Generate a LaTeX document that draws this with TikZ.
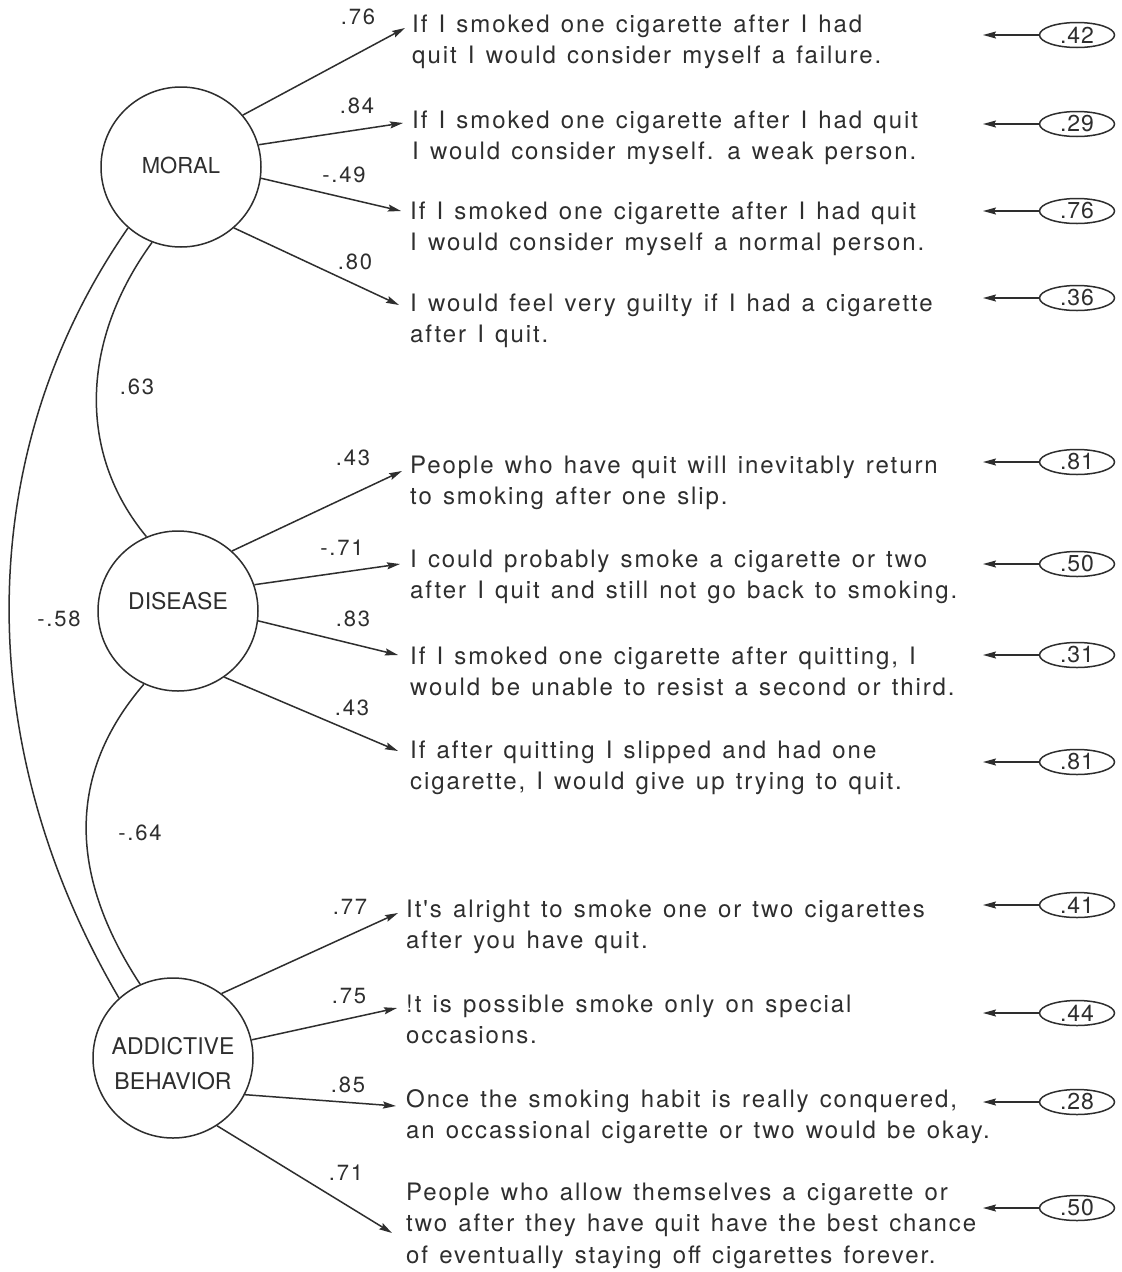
\documentclass[tikz,border=0pt]{standalone}
\usepackage{fontspec}
\setmainfont{TeX Gyre Heros}
\newfontfamily\itemfont[LetterSpace=8,WordSpace=1.3]{TeX Gyre Heros}
\newfontfamily\errfont[LetterSpace=4]{TeX Gyre Heros}
\usetikzlibrary{arrows.meta,shapes.geometric}
\definecolor{ink}{HTML}{2E2E2E}
\begin{document}
\begin{tikzpicture}[x=1pt,y=-1pt,
  latent/.style={circle,draw=ink,line width=1.5pt,minimum size=160pt,inner sep=0pt,
    font=\fontsize{23}{31}\selectfont,text=ink,align=center},
  item/.style={anchor=north west,inner sep=0pt,align=left,
    font=\itemfont\fontsize{24}{31.5}\selectfont,text=ink},
  coef/.style={inner sep=0pt,font=\itemfont\fontsize{22}{26}\selectfont,text=ink},
  err/.style={ellipse,draw=ink,line width=1.5pt,minimum width=75pt,minimum height=25pt,
    inner sep=0pt,font=\errfont\fontsize{23}{26}\selectfont,text=ink},
  load/.style={draw=ink,line width=1.5pt,-{Stealth[length=13pt,width=7pt,inset=2pt]}},
  cov/.style={draw=ink,line width=1.5pt}]
\useasboundingbox[fill=white] (0,0) rectangle (1122,1272);

% latent variables
\node[latent] (M) at (181,167) {\fontsize{22}{31}\selectfont\raisebox{2pt}[\height][\depth]{MORAL}};
\node[latent] (D) at (178,611) {\raisebox{10pt}[\height][\depth]{DISEASE}};
\node[latent] (A) at (173,1058) {\raisebox{-5.5pt}[\height][\depth]{\shortstack{ADDICTIVE\\[14pt]BEHAVIOR}}};

% covariances
\draw[cov] (M.249) .. controls (81,340) and (76.6,452.3) .. (D.113);
\draw[cov] (M.229) .. controls (-29,454) and (-29,746) .. (A.132);
\draw[cov] (D.245) .. controls (67.5,773) and (67.5,873.5) .. (A.114);
\node[coef] (c63) at (137,387) {.63};
\node[coef] (c58) at (59,619) {-.58};
\node[coef] (c64) at (140,833) {-.64};

% items
\node[item] (m1) at (412,10) {\strut If I smoked one cigarette after I had\\quit I would consider myself a failure.};
\node[item] (m2) at (412,106) {\strut If I smoked one cigarette after I had quit\\I would consider myself. a weak person.};
\node[item] (m3) at (410,197) {\strut If I smoked one cigarette after I had quit\\I would consider myself a normal person.};
\node[item] (m4) at (410,289) {\strut I would feel very guilty if I had a cigarette\\after I quit.};
\node[item] (d1) at (410,451) {\strut People who have quit will inevitably return\\to smoking after one slip.};
\node[item] (d2) at (410,545) {\strut I could probably smoke a cigarette or two\\after I quit and still not go back to smoking.};
\node[item] (d3) at (410,642) {\strut If I smoked one cigarette after quitting, I\\would be unable to resist a second or third.};
\node[item] (d4) at (410,736) {\strut If after quitting I slipped and had one\\cigarette, I would give up trying to quit.};
\node[item] (a1) at (406,895) {\strut It's alright to smoke one or two cigarettes\\after you have quit.};
\node[item] (a2) at (406,990) {\strut !t is possible smoke only on special\\occasions.};
\node[item] (a3) at (406,1085) {\strut Once the smoking habit is really conquered,\\an occassional cigarette or two would be okay.};
\node[item] (a4) at (406,1178) {\strut People who allow themselves a cigarette or\\two after they have quit have the best chance\\of eventually staying off cigarettes forever.};

% arrow tips at items
\coordinate (tm1) at (405,28);
\coordinate (tm2) at (403,123);
\coordinate (tm3) at (401,211);
\coordinate (tm4) at (399,305);
\coordinate (td1) at (402,471);
\coordinate (td2) at (400,564);
\coordinate (td3) at (398,655);
\coordinate (td4) at (398,751);
\coordinate (ta1) at (398,913);
\coordinate (ta2) at (397,1008);
\coordinate (ta3) at (396,1106);
\coordinate (ta4) at (392,1233);

% loadings
\draw[load] (M.40) -- (tm1);
\draw[load] (M.16) -- (tm2);
\draw[load] (M.352) -- (tm3);
\draw[load] (M.311) -- (tm4);
\draw[load] (D.48) -- (td1);
\draw[load] (D.19) -- (td2);
\draw[load] (D.353) -- (td3);
\draw[load] (D.305) -- (td4);
\draw[load] (A.53) -- (ta1);
\draw[load] (A.13) -- (ta2);
\draw[load] (A.333) -- (ta3);
\draw[load] (A.303) -- (ta4);

\node[coef] (l1) at (358,17) {.76};
\node[coef] (l2) at (357,106) {.84};
\node[coef] (l3) at (344,175) {-.49};
\node[coef] (l4) at (355,262) {.80};
\node[coef] (l5) at (353,458) {.43};
\node[coef] (l6) at (342,548) {-.71};
\node[coef] (l7) at (353,619) {.83};
\node[coef] (l8) at (352,708) {.43};
\node[coef] (l9) at (350,907) {.77};
\node[coef] (l10) at (349,996) {.75};
\node[coef] (l11) at (348,1085) {.85};
\node[coef] (l12) at (346,1173) {.71};

% error terms
\node[err] (e1) at (1077,35) {.42};
\node[err] (e2) at (1077,124) {.29};
\node[err] (e3) at (1077,211) {.76};
\node[err] (e4) at (1077,298) {.36};
\node[err] (e5) at (1077,462) {.81};
\node[err] (e6) at (1077,564) {.50};
\node[err] (e7) at (1077,655) {.31};
\node[err] (e8) at (1077,762) {.81};
\node[err] (e9) at (1077,905) {.41};
\node[err] (e10) at (1077,1013) {.44};
\node[err] (e11) at (1077,1102) {.28};
\node[err] (e12) at (1077,1208) {.50};
\foreach \i/\y in {1/35,2/124,3/211,4/298,5/462,6/564,7/655,8/762,9/905,10/1013,11/1102,12/1208}{
  \coordinate (et\i) at (983,\y);
  \draw[load] (e\i) -- (et\i);
}
\end{tikzpicture}
\end{document}
